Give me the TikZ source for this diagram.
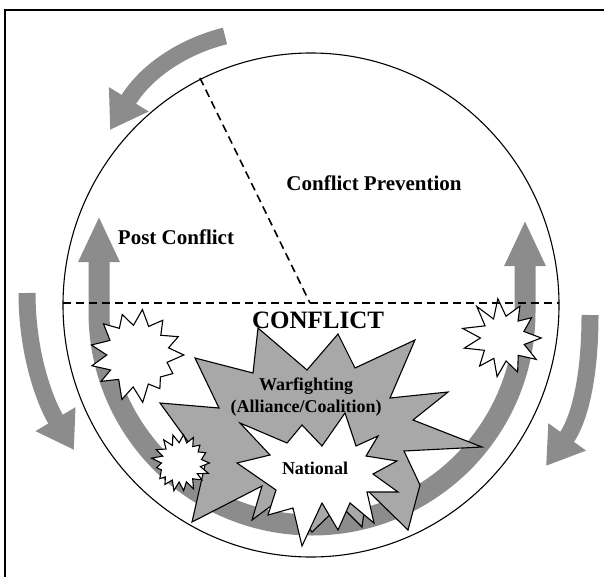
\documentclass[tikz,border=0pt]{standalone}
\usepackage{fontspec}
\setmainfont{Liberation Serif}
\usetikzlibrary{arrows.meta}

\definecolor{bandgray}{gray}{0.55}
\definecolor{stargray}{gray}{0.66}

\tikzset{
  burst/.style={draw=black, fill=white, line width=1.1pt, line join=miter},
  warburst/.style={burst, fill=stargray},
  band/.style={draw=bandgray, line width=21pt,
    arrows={Triangle[length=46pt,width=38pt]-Triangle[length=46pt,width=38pt]}},
  outerarrow/.style={draw=bandgray, line width=17pt,
    arrows={-Triangle[length=36pt,width=44pt]}},
  divider/.style={dash pattern=on 8pt off 5pt, line width=1.6pt},
  phase/.style={font=\fontsize{21}{25}\selectfont\bfseries},
  level/.style={font=\fontsize{18}{22}\selectfont\bfseries, align=center},
}

% small white explosion: x, y, outer r, inner r, points, seed
\newcommand{\burst}[6]{%
  \pgfmathsetseed{#6}%
  \pgfmathtruncatemacro\lastk{2*#5-1}%
  \draw[burst, shift={(#1,#2)}] plot[samples at={0,...,\lastk}, variable=\k]
    ({\k*180/#5}:{ifthenelse(isodd(\k),#4*(0.95+0.12*rnd),#3*(0.8+0.2*rnd))}) -- cycle;}

\begin{document}
\begin{tikzpicture}[x=1pt, y=-1pt]
\useasboundingbox (0,0) rectangle (604,577);
% edge of the scanned page
\draw[line width=2.4pt] (5,577) -- (5,10) -- (604,10);
% the whole cycle
\draw[line width=1.1pt] (311,305) ellipse [x radius=248, y radius=252];

% inner arrow round the conflict half
\draw[band] (99,216) -- (99,312) arc[start angle=180, end angle=0, radius=213] -- (525,220);

% outer arrows
\draw[outerarrow] (225,36) .. controls (188,45) and (148,68) .. (110,130);
\draw[outerarrow] (27,293) .. controls (27,352) and (44,400) .. (74,450);
\draw[outerarrow] (590,315) .. controls (590,382) and (578,422) .. (546,466);

% small bursts on the band
\burst{137}{355}{48}{31}{13}{7}
\burst{503}{338}{42}{22}{11}{3}

% phase borders
\coordinate (rim) at (200,78);
\coordinate (hub) at (310,303);
\coordinate (west) at (63,303);
\coordinate (east) at (559,303);
\draw[divider] (west) -- (east);
\draw[divider] (rim) -- (hub);

% warfighting
\draw[warburst] (258,328) -- (307,370) -- (338,334) -- (355,368) -- (415,340)
  -- (390,398) -- (448,392) -- (413,420) -- (482,447) -- (404,451) -- (420,485)
  -- (408,530) -- (367,490) -- (362,527) -- (340,505) -- (312,532) -- (283,497)
  -- (252,520) -- (262,486) -- (192,522) -- (205,465) -- (160,403) -- (219,408)
  -- (195,358) -- (253,373) -- cycle;
% national
\draw[burst] (345,413) -- (356,446) -- (378,436) -- (366,456) -- (397,461)
  -- (373,474) -- (398,492) -- (367,492) -- (374,523) -- (350,503) -- (338,530)
  -- (322,503) -- (302,546) -- (293,508) -- (268,515) -- (276,490) -- (237,463)
  -- (270,455) -- (240,423) -- (287,443) -- (302,425) -- (322,446) -- cycle;
\burst{181}{463}{31}{20}{17}{11}

% labels
\node[phase] (prevention) at (374,183) {Conflict Prevention};
\node[phase] (post) at (176,237) {Post Conflict};
\node[font=\fontsize{25}{30}\selectfont\bfseries] (conflict) at (318,320) {CONFLICT};
\node[level] (warfighting) at (306,397) {Warfighting\\(Alliance/Coalition)};
\node[level] (national) at (315,468) {National};
\end{tikzpicture}
\end{document}
